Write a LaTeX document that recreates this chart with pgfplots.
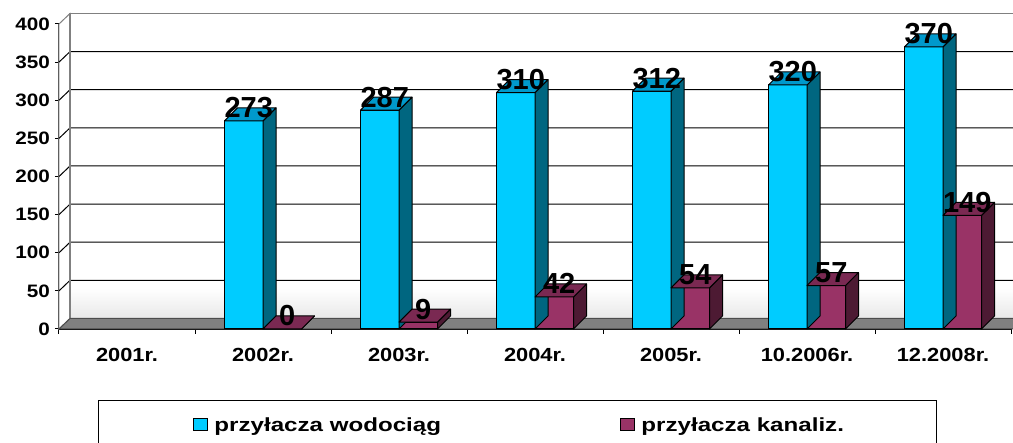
\documentclass[border=0pt]{standalone}
\usepackage{pgfplots}
\pgfplotsset{compat=1.18}
\usepackage{fontspec}
\setmainfont{Liberation Sans}
\newfontfamily\lblfont[FakeStretch=1.15]{Liberation Sans}
\newfontfamily\legfont[FakeStretch=1.27]{Liberation Sans}
\usetikzlibrary{calc}
\definecolor{cfront}{HTML}{00CCFF}
\definecolor{ctop}{HTML}{0099CC}
\definecolor{cside}{HTML}{006680}
\definecolor{mfront}{HTML}{993366}
\definecolor{mtop}{HTML}{7A2952}
\definecolor{mside}{HTML}{4D1A33}
\definecolor{floorc}{HTML}{808080}
\newcommand\dx{11pt}
\newcommand\dy{10.5pt}
\pgfdeclareplotmark{boxA}{%
  \pgfmathsetmacro\hh{\yv*0.7625}%
  \fill[cside,draw=black,line width=1pt,line join=round] (0pt,0pt) -- (13pt,13pt) -- (13pt,13pt-\hh*1pt) -- (0pt,-\hh*1pt) -- cycle;
  \fill[ctop,draw=black,line width=1pt,line join=round] (-38.5pt,0pt) -- (0pt,0pt) -- (13pt,13pt) -- (-25.5pt,13pt) -- cycle;
}
\pgfdeclareplotmark{boxB}{%
  \pgfmathsetmacro\hh{\yv*0.7625}%
  \fill[mside,draw=black,line width=1pt,line join=round] (38.5pt,0pt) -- (51.5pt,13pt) -- (51.5pt,13pt-\hh*1pt) -- (38.5pt,-\hh*1pt) -- cycle;
  \fill[mtop,draw=black,line width=1pt,line join=round] (0pt,0pt) -- (38.5pt,0pt) -- (51.5pt,13pt) -- (13pt,13pt) -- cycle;
}
\begin{document}
\begin{tikzpicture}
\begin{axis}[
  at={(0,0)}, anchor=origin,
  x=136pt, y=0.7625pt,
  xmin=0, xmax=7, ymin=0, ymax=400,
  clip=false,
  axis x line*=bottom, axis y line*=left,
  axis line style={line width=1.2pt, black, -},
  ybar=0pt, bar width=38.5pt,
  xtick={0.5,1.5,...,6.5},
  xticklabels={2001r.,2002r.,2003r.,2004r.,2005r.,10.2006r.,12.2008r.},
  minor xtick={0,1,...,7},
  major x tick style={draw=none},
  minor x tick style={black, line width=1pt},
  minor tick length=5pt,
  ytick={0,50,...,400},
  major tick length=4pt,
  tick align=outside,
  y tick style={black,line width=1pt},
  /pgf/number format/assume math mode=true,
  yticklabel style={font=\lblfont\fontsize{18}{18}\selectfont\bfseries, inner sep=0pt, xshift=-5pt},
  xticklabel style={font=\lblfont\fontsize{19}{19}\selectfont\bfseries, inner sep=0pt, yshift=-15pt},
  nodes near coords,
  visualization depends on={y \as \yv},
  every node near coord/.append style={font=\fontsize{29}{29}\selectfont\bfseries, anchor=base, yshift=3pt, xshift=5pt, inner sep=0pt, text=black},
  legend image code/.code={\path[draw=none,fill=none] (-58pt,0pt) -- (19pt,0pt); \draw[#1,draw=black,line width=1pt] (0pt,-5pt) rectangle (14pt,7pt);},
  legend columns=2,
  legend style={at={(0.04097,-0.23279)}, anchor=north west, draw=black, line width=1pt,
    font=\legfont\fontsize{19}{19}\selectfont\bfseries, inner xsep=37pt, inner ysep=15pt,
    /tikz/every even column/.append style={column sep=0pt}},
]
% back wall
\fill[white] ($(axis cs:0,0)+(\dx,\dy)$) rectangle ($(axis cs:7.2,400)+(\dx,\dy)$);
\shade[top color=white,bottom color=black!9] ($(axis cs:0,0)+(\dx,\dy)$) rectangle ($(axis cs:7.2,40)+(\dx,\dy)$);
% left wall
\fill[white,draw=gray,line width=1pt] (axis cs:0,0) -- (axis cs:0,400) -- ($(axis cs:0,400)+(\dx,\dy)$) -- ($(axis cs:0,0)+(\dx,\dy)$) -- cycle;
\pgfplotsinvokeforeach{50,100,150,200,250,300,350}{
  \draw[black,line width=1pt] (axis cs:0,#1) -- ($(axis cs:0,#1)+(\dx,\dy)$) -- ($(axis cs:7.2,#1)+(\dx,\dy)$);
}
\draw[gray,line width=1.2pt] ($(axis cs:0,0)+(\dx,\dy)$) -- ($(axis cs:0,400)+(\dx,\dy)$) -- ($(axis cs:7.2,400)+(\dx,\dy)$);
% floor
\fill[floorc,draw=black!70,line width=1pt] (axis cs:0,0) -- (axis cs:7.2,0) -- ($(axis cs:7.2,0)+(\dx,\dy)$) -- ($(axis cs:0,0)+(\dx,\dy)$) -- cycle;
\addplot[fill=cfront, draw=black, line width=1pt, mark=boxA] coordinates {(1.5,273) (2.5,287) (3.5,310) (4.5,312) (5.5,320) (6.5,370)};
\addlegendentry{\makebox[346pt][l]{przyłacza wodociąg}}
\addplot[fill=mfront, draw=black, line width=1pt, mark=boxB] coordinates {(1.5,0) (2.5,9) (3.5,42) (4.5,54) (5.5,57) (6.5,149)};
\addlegendentry{\makebox[256pt][l]{przyłacza kanaliz.}}
\end{axis}
\pgfresetboundingbox
\path[use as bounding box] (-59pt,329pt) rectangle (954pt,-114pt);
\end{tikzpicture}
\end{document}
